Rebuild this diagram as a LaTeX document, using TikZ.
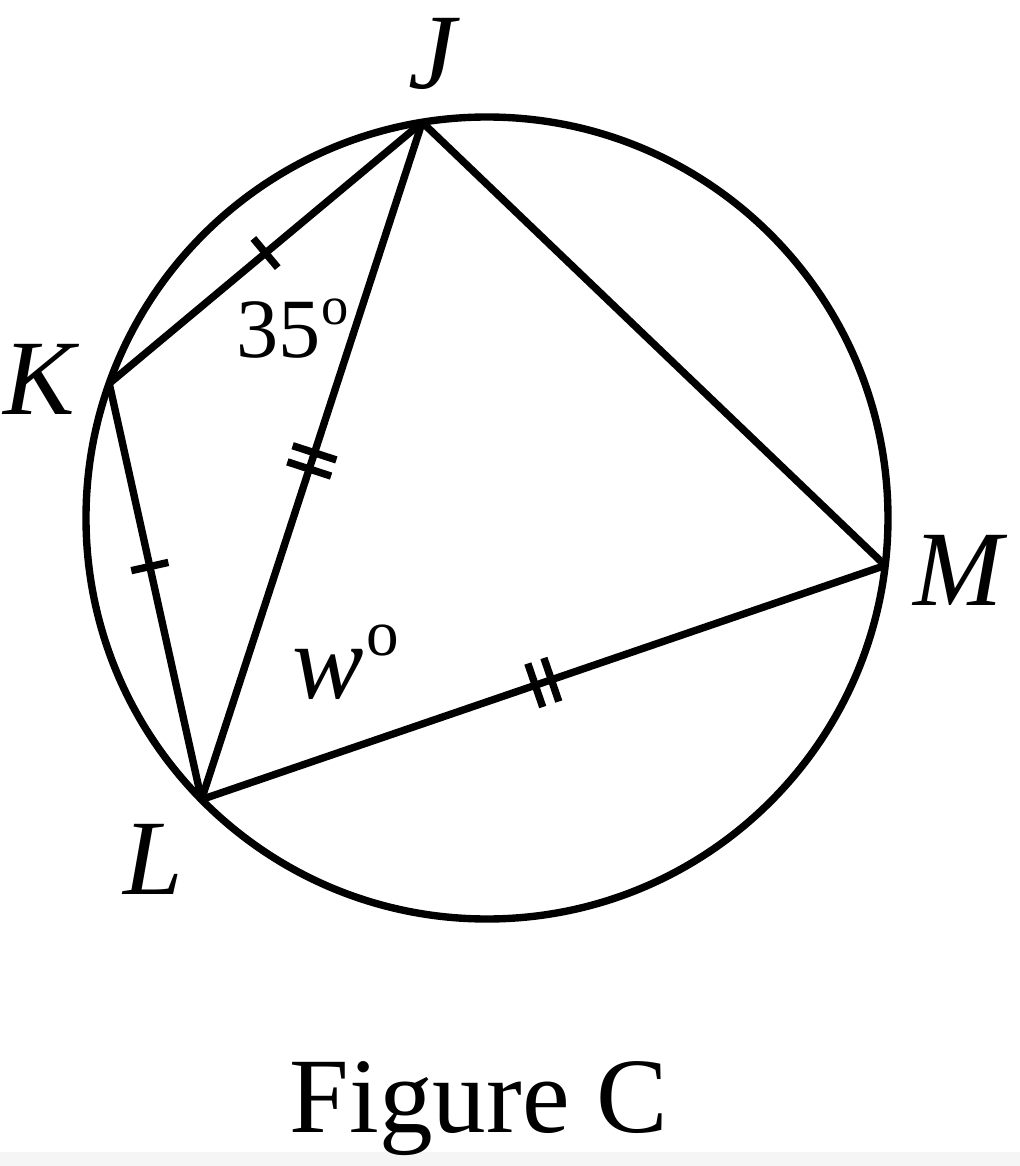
\documentclass[tikz,border=0pt]{standalone}
\usepackage{fontspec}
\setmainfont{Liberation Serif}
\usetikzlibrary{decorations.markings}
\definecolor{streifen}{rgb}{0.96,0.96,0.96}
\newcommand{\hochO}[2]{\raisebox{#2}{\fontsize{#1}{#1}\selectfont o}}
\tikzset{
  einstrich/.style={postaction={decorate,decoration={markings,
    mark=at position #1 with {\draw (0,-0.19) -- (0,0.19);}}}},
  einstrich/.default=0.5,
  doppelstrich/.style={postaction={decorate,decoration={markings,
    mark=at position 0.5 with {\draw (-0.085,-0.23) -- (-0.085,0.23);
                                \draw (0.085,-0.23) -- (0.085,0.23);}}}},
  ecke/.style={font=\fontsize{30.5}{36}\selectfont\itshape, inner sep=0pt},
  winkel/.style={anchor=base west, inner sep=0pt},
}

\begin{document}
\begin{tikzpicture}[line width=2.1pt]
\useasboundingbox (-4.87,-6.48) rectangle (5.33,5.18);
\fill[streifen] (-4.87,-6.48) rectangle (5.33,-6.34);
% circle
\coordinate (O) at (0,0);
\draw (O) circle (4.01);
\coordinate (J) at (99.3:4.01);
\coordinate (K) at (160.4:4.01);
\coordinate (L) at (224.6:4.01);
\coordinate (M) at (-6.8:4.01);
% chords
\draw[einstrich] (K) -- (J);
\draw[einstrich=0.44] (K) -- (L);
\draw[doppelstrich] (J) -- (L);
\draw[doppelstrich] (L) -- (M);
\draw (J) -- (M);
% labels
\node[ecke] (labJ) at (-0.55,4.64) {J};
\node[ecke] (labK) at (-4.48,1.39) {K};
\node[ecke] (labL) at (-3.34,-3.41) {L};
\node[ecke] (labM) at (4.71,-0.52) {M};
\node[winkel, font=\fontsize{24}{29}\selectfont] (wK) at (-2.54,1.60) {35\hochO{15.5}{0.33cm}};
\node[winkel, font=\fontsize{30.5}{36}\selectfont] (wL) at (-1.98,-1.80) {\textit{w}\hspace{0.02cm}\hochO{18.5}{0.43cm}};
\node[anchor=base, inner sep=0pt, font=\fontsize{30.5}{36}\selectfont] (titel) at (-0.08,-6.14) {Figure C};
\end{tikzpicture}
\end{document}
